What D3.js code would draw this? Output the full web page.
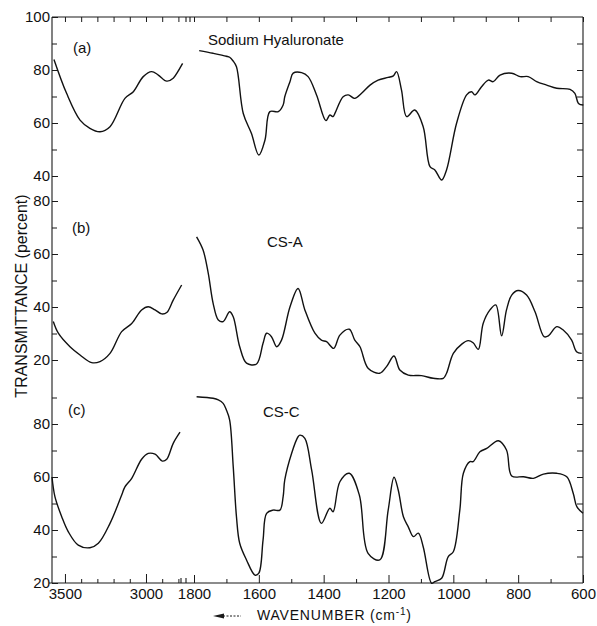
<!DOCTYPE html>
<html><head><meta charset="utf-8">
<script src="https://cdn.jsdelivr.net/npm/d3@7"></script>
<style>
body{margin:0;background:#fff;}
text{font-family:"Liberation Sans",Arial,sans-serif;fill:#111;}
</style></head>
<body><svg id="c" width="597" height="626"></svg>
<script>
// ---- data (wavenumber cm^-1, transmittance %) ----
const sampleNames = ["Sodium Hyaluronate", "CS-A", "CS-C"];
const panelLabels = ["(a)", "(b)", "(c)"];
const highTicks = [3500, 3000];
const highMinor = [3400, 3300, 3200, 3100, 2900, 2800];
const lowTicks = [1800, 1600, 1400, 1200, 1000, 800, 600];
const lowMinor = [1700, 1500, 1300, 1100, 900, 700];
const yTicksA = [100, 80, 60, 40], yMinorA = [90, 70, 50];
const yTicksB = [80, 60, 40, 20], yMinorB = [70, 50, 30];
const yTicksC = [80, 60, 40, 20], yMinorC = [90, 70, 50, 30];

const naHigh = [[3568,84],[3490,71.2],[3407,61.1],[3346,58],[3284,56.7],[3222,58.6],[3130,69.3],[3078,71.8],[3017,77.5],[2965,79.4],[2924,78.1],[2872,75.8],[2832,76.9],[2774,82.5]];
const naLow = [[1784,87.3],[1741,86.3],[1700,85.2],[1690,84.8],[1680,83.5],[1669,81.2],[1648,63.6],[1623,56.1],[1600,47.9],[1581,53.6],[1566,64.3],[1540,64.3],[1525,66.8],[1520,69.9],[1504,75.6],[1494,78.8],[1468,79],[1448,77.5],[1422,70.6],[1393,60.9],[1381,63],[1371,62.4],[1365,63.7],[1340,69.9],[1324,70.6],[1304,69.3],[1283,71.2],[1257,74.3],[1232,76.2],[1201,77.2],[1185,77.8],[1175,79.4],[1160,72.5],[1144,62.4],[1119,64.9],[1093,58.6],[1072,43.5],[1057,42.3],[1036,38.5],[1021,42.3],[990,59.9],[959,70.6],[944,71.8],[933,70.6],[913,73.7],[892,76.2],[877,75.6],[856,78.1],[820,78.8],[794,77.5],[769,77.5],[743,75.6],[712,74.3],[681,73.1],[640,72.7],[625,71.2],[614,67.4],[599,66.8]];

const csaHigh = [[3572,34.5],[3541,30.1],[3469,25],[3407,21.9],[3335,19],[3284,19.4],[3222,22.5],[3150,30.7],[3088,33.8],[3027,38.9],[2986,40.1],[2944,38.9],[2903,37.4],[2872,37.9],[2832,42.6],[2780,48.3]];
const csaLow = [[1792,66.5],[1772,61.5],[1756,52.7],[1741,41.4],[1725,35.1],[1710,34.5],[1690,38.2],[1679,36.3],[1659,25],[1638,18.8],[1607,18.5],[1587,26.3],[1576,30.1],[1561,28.8],[1545,25],[1530,27.5],[1504,40],[1479,47],[1458,38.9],[1427,30.1],[1407,27.5],[1391,26.9],[1369,24.4],[1350,29.4],[1321,31.6],[1304,27.5],[1288,25],[1263,16.9],[1227,15],[1206,17.5],[1183,21.5],[1165,16.2],[1139,14.3],[1098,14.1],[1062,13.1],[1031,13.1],[1021,15],[1000,22.5],[974,26],[954,27.3],[939,26.5],[923,24],[908,33.8],[887,38.9],[869,40.8],[851,29.1],[836,38.9],[820,44.5],[800,46.2],[774,44.5],[748,38.2],[720,28.8],[707,29.1],[681,32.6],[661,31.3],[635,27.5],[620,23.1],[604,22.5]];

const cscHigh = [[3580,60],[3562,52.6],[3520,45],[3480,39.4],[3418,34.3],[3346,33.3],[3294,35],[3222,42.5],[3150,53.2],[3130,56.3],[3088,59.5],[3027,66.7],[2986,68.9],[2944,68.6],[2899,66],[2872,66.7],[2832,72.7],[2790,76.9]];
const cscLow = [[1792,90.3],[1741,89.7],[1725,89.1],[1710,87.8],[1700,85.3],[1690,81.5],[1679,63.9],[1669,45],[1659,35],[1638,28.7],[1612,23],[1600,23.7],[1587,36.2],[1576,46.3],[1556,47.5],[1535,47.5],[1525,52.6],[1520,58.9],[1499,68.9],[1479,75.2],[1473,75.8],[1458,74.6],[1437,62.6],[1407,42.5],[1381,48.2],[1371,46.9],[1350,58.2],[1321,61.4],[1290,53.2],[1263,31.2],[1227,28.7],[1201,47.5],[1183,59.9],[1170,55.1],[1154,45],[1139,41.2],[1123,37.5],[1108,38.8],[1093,33.7],[1067,19.9],[1057,20.5],[1036,21.8],[1016,29.9],[1000,31.8],[980,47.5],[969,61.4],[949,65.8],[939,65.8],[918,69.5],[897,70.8],[861,73.7],[836,70.2],[820,60.4],[784,60.1],[753,59.5],[722,61.1],[681,61.4],[650,60.1],[630,53.8],[619,48.8],[600,46.3]];

// ---- layout ----
const L = 52, R = 583, T = 17, B = 583;
const svg = d3.select("#c");
const xHigh = d3.scaleLinear().domain([3580, 2750]).range([L, 186.5]);
const xLow = d3.scaleLinear().domain([1800, 600]).range([194, R]);
const yA = d3.scaleLinear().domain([40, 100]).range([176, 17]);
const yB = d3.scaleLinear().domain([20, 80]).range([360, 201]);
const yC = d3.scaleLinear().domain([20, 80]).range([583, 424]);

const panels = [
  {name: sampleNames[0], lab: panelLabels[0], high: naHigh, low: naLow, y: yA, ticks: yTicksA, minor: yMinorA, right: [90,80,70,60,50,40], labPos:[73,53], namePos:[208,45]},
  {name: sampleNames[1], lab: panelLabels[1], high: csaHigh, low: csaLow, y: yB, ticks: yTicksB, minor: yMinorB, right: [80,70,60,50,40,30,20], labPos:[72,233], namePos:[267,247]},
  {name: sampleNames[2], lab: panelLabels[2], high: cscHigh, low: cscLow, y: yC, ticks: yTicksC, minor: yMinorC, right: [90,80,70,60,50,40,30], labPos:[68,415], namePos:[263,417]}
];

const ink = "#1a1a1a";
// frame
const frame = svg.append("g").attr("stroke", ink).attr("stroke-width", 1.1).attr("fill", "none");
frame.append("line").attr("x1", L).attr("x2", L).attr("y1", T).attr("y2", B);
frame.append("line").attr("x1", R).attr("x2", R).attr("y1", T).attr("y2", B);
frame.append("line").attr("x1", L).attr("x2", R).attr("y1", T).attr("y2", T);
frame.append("line").attr("x1", L - 3).attr("x2", R).attr("y1", B).attr("y2", B);
// break marks
[[181, B, -5], [186, B, -5], [186, T, 5], [190, T, 5]].forEach(([x, y, d]) => {
  frame.append("line").attr("x1", x).attr("x2", x).attr("y1", y).attr("y2", y + d);
});

function styleAxis(g) {
  g.select(".domain").remove();
  g.selectAll(".tick line").attr("stroke", ink).attr("stroke-width", 1);
  g.selectAll(".tick text").style("font-size", "15px").attr("fill", ink)
    .style("font-family", '"Liberation Sans", Arial, sans-serif');
}

// x axes: bottom
svg.append("g").attr("transform", `translate(0,${B})`)
  .call(d3.axisBottom(xHigh).tickValues(highTicks).tickSize(-9).tickPadding(5).tickFormat(d3.format("d"))).call(styleAxis);
svg.append("g").attr("transform", `translate(0,${B})`)
  .call(d3.axisBottom(xHigh).tickValues(highMinor).tickSize(-4).tickFormat("")).call(styleAxis);
svg.append("g").attr("transform", `translate(0,${B})`)
  .call(d3.axisBottom(xLow).tickValues(lowTicks).tickSize(-8).tickPadding(5).tickFormat(d3.format("d"))).call(styleAxis);
svg.append("g").attr("transform", `translate(0,${B})`)
  .call(d3.axisBottom(xLow).tickValues(lowMinor).tickSize(-4).tickFormat("")).call(styleAxis);
// top
svg.append("g").attr("transform", `translate(0,${T})`)
  .call(d3.axisTop(xHigh).tickValues(highTicks.concat(highMinor)).tickSize(-5).tickFormat("")).call(styleAxis);
svg.append("g").attr("transform", `translate(0,${T})`)
  .call(d3.axisTop(xLow).tickValues(lowTicks.concat(lowMinor)).tickSize(-5).tickFormat("")).call(styleAxis);

const line = xs => d3.line().x(d => xs(d[0])).curve(d3.curveCatmullRom.alpha(0.5));

panels.forEach(p => {
  // left axis
  svg.append("g").attr("transform", `translate(${L},0)`)
    .call(d3.axisLeft(p.y).tickValues(p.ticks).tickSize(-6).tickPadding(2)).call(styleAxis);
  svg.append("g").attr("transform", `translate(${L},0)`)
    .call(d3.axisLeft(p.y).tickValues(p.minor).tickSize(-5).tickFormat("")).call(styleAxis);
  // right axis
  svg.append("g").attr("transform", `translate(${R},0)`)
    .call(d3.axisRight(p.y).tickValues(p.right).tickSize(-6).tickFormat("")).call(styleAxis);
  // spectra
  [[p.high, xHigh], [p.low, xLow]].forEach(([data, xs]) => {
    svg.append("path").datum(data)
      .attr("d", line(xs).y(d => p.y(d[1])))
      .attr("fill", "none").attr("stroke", "#111").attr("stroke-width", 1.4)
      .attr("stroke-linejoin", "round");
  });
  svg.append("text").attr("x", p.labPos[0]).attr("y", p.labPos[1]).style("font-size", "15px").text(p.lab);
  svg.append("text").attr("x", p.namePos[0]).attr("y", p.namePos[1]).style("font-size", "15px").text(p.name);
});

// axis titles
svg.append("text").attr("transform", "translate(27,296) rotate(-90)")
  .attr("text-anchor", "middle").style("font-size", "16px").text("TRANSMITTANCE (percent)");
const xt = svg.append("text").attr("x", 257).attr("y", 620).style("font-size", "14px").style("letter-spacing", "0.8px");
xt.append("tspan").text("WAVENUMBER (cm");
xt.append("tspan").attr("dy", -5).style("font-size", "10px").text("-1");
xt.append("tspan").attr("dy", 5).text(")");
// arrow
svg.append("line").attr("x1", 223).attr("x2", 241).attr("y1", 616).attr("y2", 616)
  .attr("stroke", ink).attr("stroke-width", 1).attr("stroke-dasharray", "2,1.5");
svg.append("path").attr("d", "M213,616 L224,613.5 L224,618.5 Z").attr("fill", ink);
</script></body></html>
